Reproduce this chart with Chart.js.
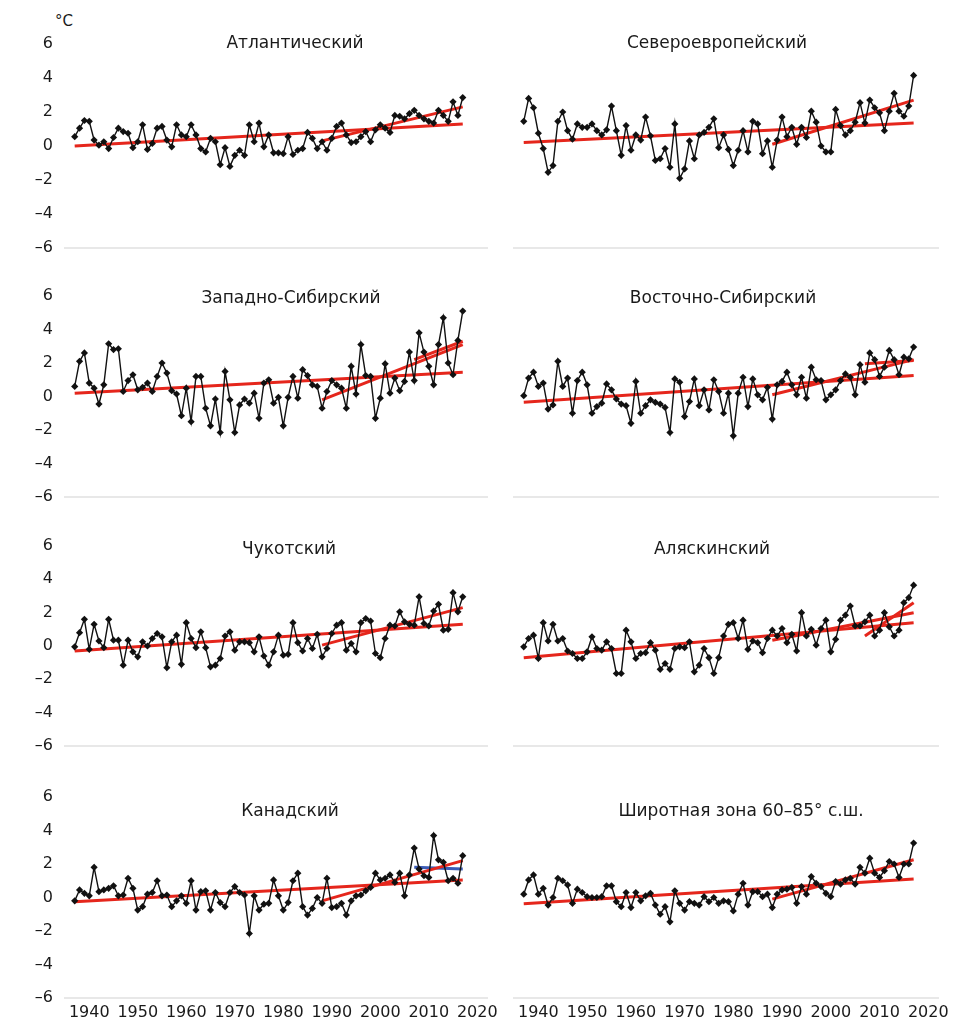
<!DOCTYPE html>
<html>
<head>
<meta charset="utf-8">
<script src="https://cdn.jsdelivr.net/npm/chart.js@4.4.1/dist/chart.umd.min.js"></script>
<style>
  body { margin: 0; background: #fff; width: 955px; height: 1033px; position: relative; overflow: hidden;
         font-family: "DejaVu Sans", sans-serif; color: #1a1a1a; }
  canvas { position: absolute; }
  .title { position: absolute; font-size: 17px; transform: translate(-50%, -50%); white-space: nowrap; }
</style>
</head>
<body>
<div class="title" style="left:64px;top:21px;font-size:15px">°C</div>
<script>
  // years 1937-2017
  const years = [1937,1938,1939,1940,1941,1942,1943,1944,1945,1946,1947,1948,1949,1950,1951,1952,1953,1954,1955,1956,
    1957,1958,1959,1960,1961,1962,1963,1964,1965,1966,1967,1968,1969,1970,1971,1972,1973,1974,1975,1976,
    1977,1978,1979,1980,1981,1982,1983,1984,1985,1986,1987,1988,1989,1990,1991,1992,1993,1994,1995,1996,
    1997,1998,1999,2000,2001,2002,2003,2004,2005,2006,2007,2008,2009,2010,2011,2012,2013,2014,2015,2016,2017];
  const xTicks = [1940, 1950, 1960, 1970, 1980, 1990, 2000, 2010, 2020];
  const yTicks = [-6, -4, -2, 0, 2, 4, 6];

  // anomalies, deg C
  const atlantic = [0.55,1.05,1.5,1.45,0.35,0.05,0.25,-0.15,0.5,1.05, 0.85,0.75,-0.1,0.25,1.25,-0.2,0.15,1.05,1.15,0.35,
    -0.05,1.25,0.65,0.55,1.25,0.65,-0.15,-0.35,0.45,0.25, -1.1,-0.1,-1.2,-0.55,-0.25,-0.55,1.25,0.25,1.35,-0.05,
    0.65,-0.4,-0.4,-0.45,0.55,-0.5,-0.25,-0.15,0.8,0.45, -0.15,0.25,-0.25,0.45,1.15,1.35,0.65,0.2,0.25,0.55,
    0.85,0.25,0.95,1.25,1.05,0.8,1.8,1.75,1.6,1.9, 2.1,1.8,1.6,1.45,1.35,2.1,1.8,1.45,2.6,1.8, 2.85];
  const northEurope = [1.45,2.8,2.25,0.75,-0.15,-1.55,-1.15,1.45,2.0,0.9, 0.4,1.3,1.1,1.1,1.3,0.9,0.65,0.95,2.35,0.9,
    -0.55,1.2,-0.25,0.65,0.35,1.7,0.6,-0.85,-0.75,-0.15, -1.25,1.3,-1.9,-1.35,0.3,-0.75,0.65,0.8,1.1,1.6,
    -0.1,0.65,-0.2,-1.15,-0.25,0.9,-0.35,1.45,1.3,-0.45, 0.3,-1.25,0.35,1.7,0.55,1.1,0.1,1.1,0.5,2.05,
    1.4,0,-0.35,-0.35,2.15,1.2,0.65,0.9,1.4,2.55, 1.35,2.7,2.25,1.95,0.9,2.05,3.1,2.05,1.75,2.35, 4.15];
  const westSiberia = [0.6,2.1,2.6,0.8,0.5,-0.45,0.7,3.15,2.8,2.85, 0.3,0.95,1.3,0.4,0.55,0.8,0.3,1.2,2.0,1.4,
    0.35,0.15,-1.15,0.5,-1.5,1.2,1.2,-0.7,-1.75,-0.15, -2.15,1.5,-0.2,-2.15,-0.5,-0.15,-0.4,0.2,-1.3,0.8,
    1.0,-0.4,-0.05,-1.75,-0.05,1.2,-0.1,1.6,1.25,0.7, 0.6,-0.7,0.3,0.95,0.7,0.5,-0.7,1.8,0.15,3.1,
    1.25,1.2,-1.3,-0.1,1.95,0.2,1.1,0.35,0.9,2.65, 0.95,3.8,2.65,1.8,0.7,3.1,4.7,2.0,1.3,3.35, 5.1];
  const eastSiberia = [0.05,1.1,1.45,0.6,0.8,-0.75,-0.5,2.1,0.6,1.1, -1.0,0.95,1.45,0.7,-1.0,-0.6,-0.4,0.75,0.4,-0.15,
    -0.45,-0.55,-1.6,0.9,-1.0,-0.55,-0.2,-0.35,-0.45,-0.65, -2.15,1.05,0.85,-1.2,-0.3,1.05,-0.55,0.4,-0.8,1.0,
    0.3,-1.0,0.2,-2.35,0.2,1.15,-0.6,1.05,0.1,-0.2, 0.55,-1.35,0.7,0.9,1.45,0.7,0.1,1.15,-0.1,1.75,
    1.0,0.95,-0.2,0.1,0.4,0.95,1.35,1.15,0.1,1.9, 0.85,2.6,2.2,1.2,1.75,2.75,2.2,1.3,2.35,2.25, 2.95];
  const chukotka = [-0.05,0.8,1.6,-0.2,1.3,0.3,-0.1,1.6,0.35,0.35, -1.15,0.35,-0.35,-0.65,0.25,0,0.45,0.75,0.55,-1.3,
    0.25,0.65,-1.1,1.4,0.45,-0.1,0.85,-0.1,-1.25,-1.15, -0.75,0.6,0.85,-0.25,0.25,0.25,0.2,-0.35,0.55,-0.6,
    -1.15,-0.35,0.65,-0.55,-0.5,1.4,0.2,-0.3,0.45,-0.15, 0.7,-0.65,-0.15,0.75,1.25,1.4,-0.25,0.15,-0.35,1.4,
    1.65,1.5,-0.45,-0.7,0.45,1.25,1.2,2.05,1.45,1.3, 1.25,2.95,1.35,1.2,2.1,2.5,0.95,1.0,3.2,2.05, 2.95];
  const alaska = [-0.05,0.45,0.65,-0.75,1.4,0.3,1.3,0.3,0.45,-0.3, -0.45,-0.75,-0.75,-0.35,0.55,-0.15,-0.25,0.25,-0.15,-1.65,
    -1.65,0.95,0.25,-0.75,-0.45,-0.4,0.2,-0.25,-1.4,-1.05, -1.4,-0.15,-0.05,-0.1,0.25,-1.55,-1.15,-0.15,-0.7,-1.65,
    -0.7,0.6,1.3,1.4,0.45,1.55,-0.2,0.3,0.2,-0.4, 0.45,0.95,0.6,1.05,0.2,0.7,-0.3,2.0,0.6,1.0,
    0.05,1.05,1.55,-0.35,0.4,1.55,1.85,2.4,1.2,1.2, 1.45,1.85,0.6,0.95,2.0,1.15,0.6,0.95,2.6,2.9, 3.65];
  const canada = [-0.2,0.45,0.25,0.1,1.8,0.35,0.45,0.55,0.7,0.1, 0.15,1.15,0.55,-0.75,-0.55,0.2,0.3,1.0,0.1,0.15,
    -0.55,-0.2,0.1,-0.35,1.0,-0.75,0.35,0.4,-0.75,0.3, -0.3,-0.55,0.3,0.65,0.3,0.15,-2.15,0.1,-0.75,-0.4,
    -0.35,1.05,0.1,-0.75,-0.3,1.0,1.45,-0.55,-1.05,-0.65, 0,-0.35,1.15,-0.6,-0.55,-0.35,-1.05,-0.2,0.1,0.15,
    0.4,0.6,1.45,1.05,1.15,1.35,0.9,1.45,0.1,1.35, 2.95,1.7,1.3,1.2,3.7,2.25,2.1,1.0,1.15,0.85, 2.5];
  const zone6085 = [0.2,1.05,1.35,0.2,0.55,-0.45,0,1.15,1.0,0.75, -0.35,0.5,0.3,0.05,0,0,0.05,0.7,0.7,-0.25,
    -0.55,0.3,-0.6,0.3,-0.2,0.1,0.25,-0.45,-1.0,-0.55, -1.45,0.4,-0.35,-0.75,-0.25,-0.35,-0.45,0.05,-0.25,0,
    -0.35,-0.2,-0.25,-0.8,0.2,0.85,-0.45,0.35,0.35,0.05, 0.2,-0.6,0.2,0.45,0.5,0.6,-0.35,0.65,0.2,1.25,
    0.85,0.65,0.25,0.05,0.95,0.8,1.05,1.15,0.8,1.8, 1.45,2.35,1.45,1.2,1.6,2.15,2.0,1.2,2.0,2.0, 3.25];

  // linear trends: values at the start and end year of each period
  const fullYears = [1937, 2017];
  const recentYears = [1988, 2017];
  const lastYears = [2007, 2017];
  const atlanticTrend = [0.0, 1.3],        atlanticRecent = [0.3, 2.3];
  const northEuropeTrend = [0.2, 1.35],    northEuropeRecent = [0.1, 2.7];
  const westSiberiaTrend = [0.2, 1.45],    westSiberiaRecent = [-0.2, 3.1],  westSiberiaLast = [2.2, 3.3];
  const eastSiberiaTrend = [-0.35, 1.25],  eastSiberiaRecent = [0.1, 2.2],   eastSiberiaLast = [1.95, 2.15];
  const chukotkaTrend = [-0.3, 1.3],       chukotkaRecent = [0.05, 2.3];
  const alaskaTrend = [-0.7, 1.4],         alaskaRecent = [0.35, 2.0],       alaskaLast = [0.6, 2.6];
  const canadaTrend = [-0.25, 1.05],       canadaRecent = [-0.2, 2.2],       canadaLast = [1.8, 1.7];
  const zoneTrend = [-0.37, 1.1],          zoneRecent = [-0.1, 2.25];

  const panels = [
    { title: 'Атлантический', values: atlantic, trend: atlanticTrend, recent: atlanticRecent },
    { title: 'Североевропейский', values: northEurope, trend: northEuropeTrend, recent: northEuropeRecent },
    { title: 'Западно-Сибирский', values: westSiberia, trend: westSiberiaTrend, recent: westSiberiaRecent, last: westSiberiaLast },
    { title: 'Восточно-Сибирский', values: eastSiberia, trend: eastSiberiaTrend, recent: eastSiberiaRecent, last: eastSiberiaLast },
    { title: 'Чукотский', values: chukotka, trend: chukotkaTrend, recent: chukotkaRecent },
    { title: 'Аляскинский', values: alaska, trend: alaskaTrend, recent: alaskaRecent, last: alaskaLast },
    { title: 'Канадский', values: canada, trend: canadaTrend, recent: canadaRecent, last: canadaLast, lastColor: '#3b5bb5' },
    { title: 'Широтная зона 60–85° с.ш.', values: zone6085, trend: zoneTrend, recent: zoneRecent }
  ];

  // page layout
  const rowTop = [44, 296, 546, 797];
  const rowBottom = [248, 497, 746, 998];
  const titleX = [295, 717, 291, 723, 289, 712, 290, 741];
  const titleY = [42, 297, 548, 810];
  const RED = '#e5261c';
  const FONT = { family: 'DejaVu Sans', size: 16 };

  function pairs(xs, ys) { return xs.map((x, k) => ({ x: x, y: ys[k] })); }

  panels.forEach(function(p, i) {
    const col = i % 2, row = Math.floor(i / 2);
    const areaL = col ? 514 : 65, areaR = col ? 938 : 487;
    const yW = 50, padT = 12, padR = 22;
    const xH = row === 3 ? 36 : 10;
    const left = areaL - yW, top = rowTop[row] - padT;
    const w = areaR - left + padR, h = rowBottom[row] - rowTop[row] + padT + xH;

    const cv = document.createElement('canvas');
    cv.width = w; cv.height = h;
    cv.style.left = left + 'px'; cv.style.top = top + 'px';
    cv.style.width = w + 'px'; cv.style.height = h + 'px';
    document.body.appendChild(cv);

    const t = document.createElement('div');
    t.className = 'title';
    t.textContent = p.title;
    t.style.left = titleX[i] + 'px';
    t.style.top = titleY[row] + 'px';
    document.body.appendChild(t);

    const datasets = [{
      data: pairs(years, p.values),
      borderColor: '#111', backgroundColor: '#111', borderWidth: 1.4,
      pointStyle: 'rectRot', pointRadius: 3.6, pointBorderWidth: 0, pointBackgroundColor: '#111'
    }, {
      data: pairs(fullYears, p.trend), borderColor: RED, borderWidth: 3, pointRadius: 0
    }, {
      data: pairs(recentYears, p.recent), borderColor: RED, borderWidth: 3, pointRadius: 0
    }];
    if (p.last) {
      datasets.push({ data: pairs(lastYears, p.last), borderColor: p.lastColor || RED, borderWidth: 3, pointRadius: 0 });
    }

    new Chart(cv.getContext('2d'), {
      type: 'line',
      data: { datasets: datasets },
      options: {
        responsive: false, animation: false, devicePixelRatio: 1,
        layout: { padding: { top: padT, right: padR, left: 0, bottom: 0 } },
        plugins: { legend: { display: false }, tooltip: { enabled: false } },
        elements: { line: { tension: 0 } },
        scales: {
          x: {
            type: 'linear', min: 1935, max: 2022,
            afterBuildTicks: s => { s.ticks = xTicks.map(v => ({ value: v })); },
            afterFit: s => { s.height = xH; s.paddingLeft = 0; s.paddingRight = 0; },
            grid: { display: false, drawTicks: false },
            border: { display: true, color: '#e8e8e8', width: 2 },
            ticks: { display: row === 3, font: FONT, color: '#1a1a1a', padding: 5, autoSkip: false, maxRotation: 0,
                     callback: v => String(v) }
          },
          y: {
            min: -6, max: 6,
            afterBuildTicks: s => { s.ticks = yTicks.map(v => ({ value: v })); },
            afterFit: s => { s.width = yW; s.paddingTop = 0; s.paddingBottom = 0; },
            grid: { display: false, drawTicks: false },
            border: { display: false },
            ticks: {
              display: col === 0, font: FONT, color: '#1a1a1a', padding: 12,
              callback: v => v < 0 ? '\u2013' + Math.abs(v) : String(v)
            }
          }
        }
      }
    });
  });
</script>
</body>
</html>
